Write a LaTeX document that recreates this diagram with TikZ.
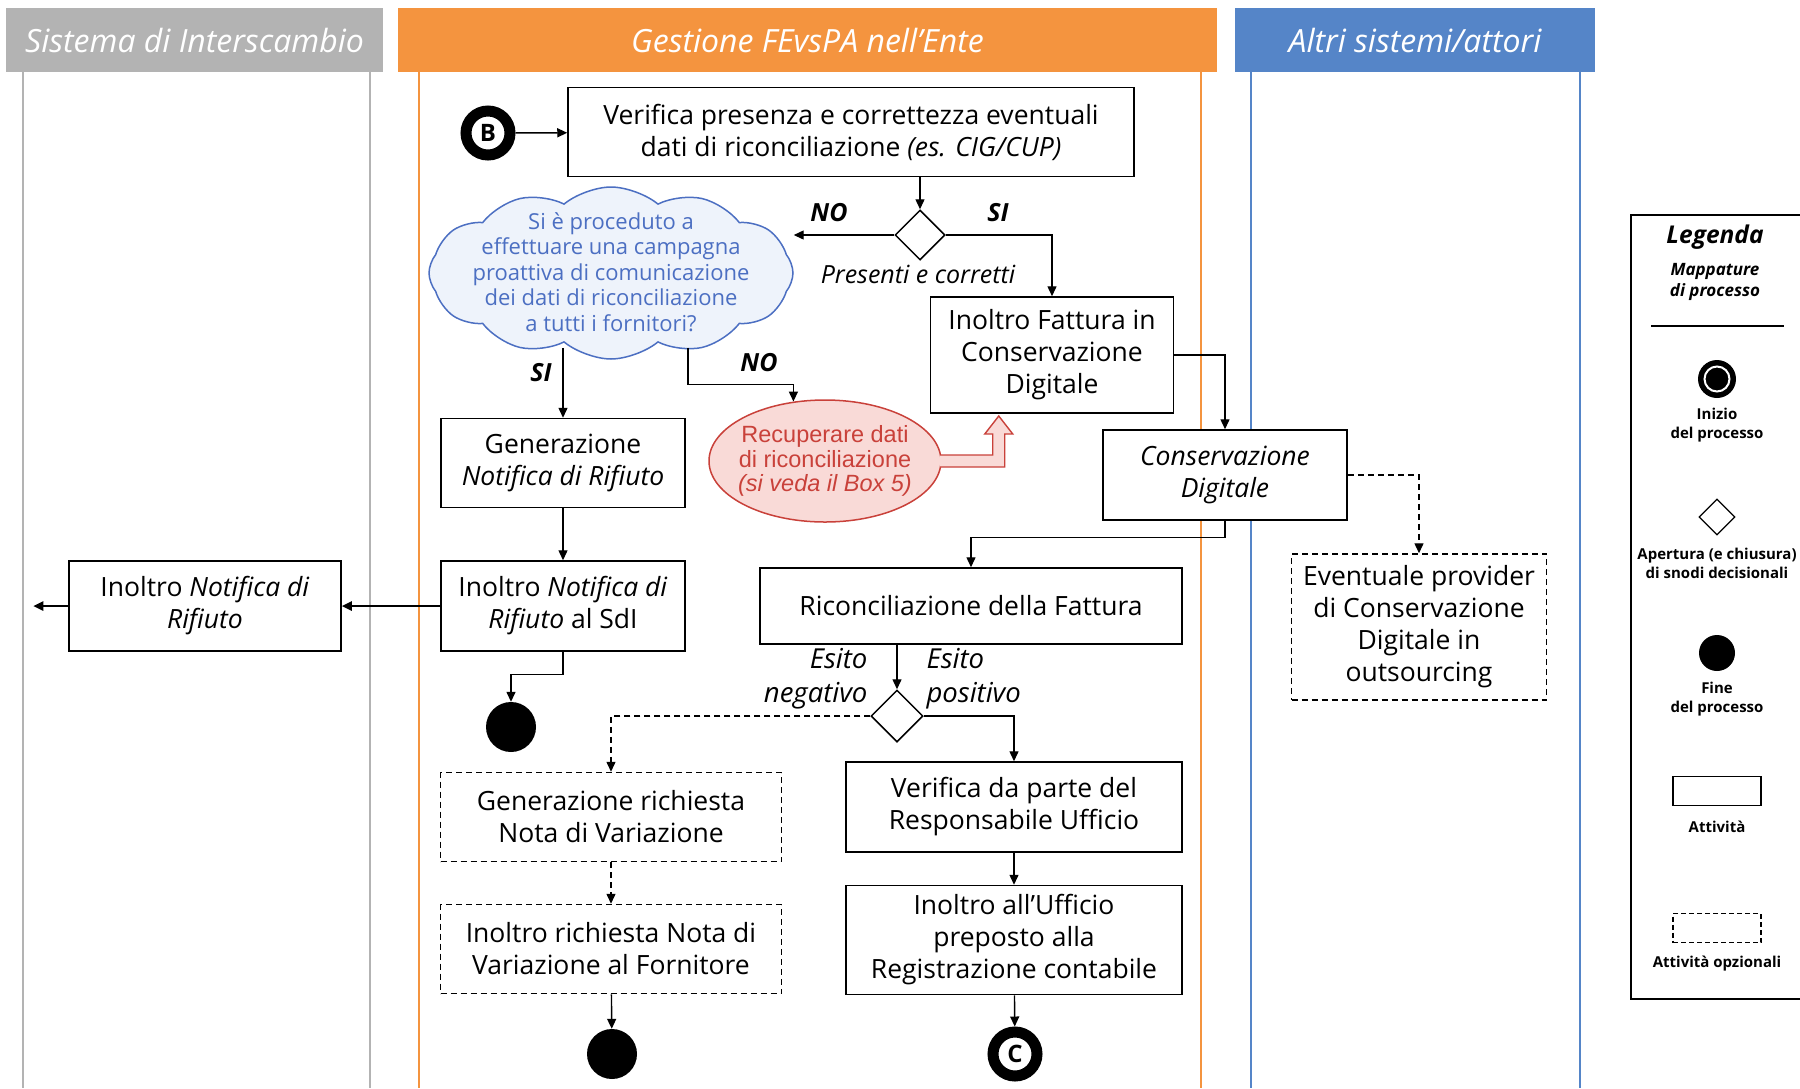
\documentclass[tikz,border=0pt]{standalone}
\usepackage{fontspec}
\setmainfont{Open Sans}
\newfontfamily\arialfont{Liberation Sans}
\usetikzlibrary{arrows.meta,shapes.geometric,shapes.symbols,calc}
\definecolor{sdigray}{HTML}{B3B3B3}
\definecolor{enteorange}{HTML}{F4943F}
\definecolor{altriblue}{HTML}{5585C8}
\definecolor{cloudblue}{HTML}{4C6FC2}
\definecolor{cloudfill}{HTML}{EEF3FB}
\definecolor{recred}{HTML}{C9413A}
\definecolor{recfill}{HTML}{F9DAD7}
\tikzset{
  header/.style={minimum height=64, inner sep=0, text=white,
    font=\fontsize{32}{36}\selectfont\itshape},
  activity/.style={draw, line width=1.5pt, inner sep=0, align=center,
    fill=white, font=\fontsize{26.5}{32}\selectfont},
  optional/.style={activity, dash pattern=on 6pt off 4pt},
  decision/.style={diamond, draw, line width=1.5pt, fill=white,
    inner sep=0, minimum size=50},
  startnode/.style={circle, draw, line width=11pt, fill=white, inner sep=0,
    minimum size=44, font=\fontsize{24}{24}\selectfont\bfseries},
  endnode/.style={circle, fill=black, inner sep=0, minimum size=50},
  arr/.style={line width=1.4pt, -{Triangle[length=10pt,width=9pt]}},
  darr/.style={arr, dash pattern=on 6pt off 4pt},
  lbl/.style={font=\fontsize{25}{28}\selectfont\bfseries\itshape},
  legtext/.style={align=center, font=\fontsize{15}{19}\selectfont\bfseries},
}
\begin{document}
\begin{tikzpicture}[x=1pt,y=-1pt]
  \useasboundingbox (0,0) rectangle (1800,1088);
  % Lanes
  \foreach \x/\c in {23/sdigray, 370/sdigray, 419/enteorange,
                     1201/enteorange, 1251/altriblue, 1580/altriblue}
    \draw[\c, line width=1.2pt] (\x,72) -- (\x,1088);
  \node[header, fill=sdigray, minimum width=377] (hsdi) at (194.5,40) {Sistema di Interscambio};
  \node[header, fill=enteorange, minimum width=819] (hente) at (807.5,40) {Gestione FEvsPA nell’Ente};
  \node[header, fill=altriblue, minimum width=360] (haltri) at (1415,40) {Altri sistemi/attori};

  % Activities
  \node[startnode] (B) at (488,133) {B};
  \node[activity, minimum width=566, minimum height=89] (verif) at (851,132)
    {Verifica presenza e correttezza eventuali\\dati di riconciliazione \textit{(es. CIG/CUP)}};
  \node[decision] (d1) at (920,235) {};
  \node[cloud, cloud puffs=12, cloud puff arc=80, cloud ignores aspect, draw=cloudblue,
    fill=cloudfill, line width=1.5pt, minimum width=364, minimum height=172] (cloud) at (611,273) {};
  \node[align=center, text=cloudblue, font=\fontsize{22}{25.5}\selectfont] (cloudtxt) at (611,272)
    {Si è proceduto a\\effettuare una campagna\\proattiva di comunicazione\\dei dati di riconciliazione\\a tutti i fornitori?};
  \node[activity, minimum width=243, minimum height=116] (fatt) at (1052,355)
    {Inoltro Fattura in\\Conservazione\\Digitale};
  \node[activity, minimum width=244, minimum height=89] (gen) at (563,463)
    {Generazione\\\textit{Notifica di Rifiuto}};
  \node[ellipse, draw=recred, fill=recfill, line width=1.5pt, inner sep=0,
    minimum width=232, minimum height=122] (rec) at (825,461) {};
  \node[align=center, text=recred, font=\arialfont\fontsize{23.5}{24.5}\selectfont] (rectxt) at (825,461)
    {Recuperare dati\\di riconciliazione\\\textit{(si veda il Box 5)}};
  \node[activity, minimum width=244, minimum height=90] (cons) at (1225,475)
    {\textit{Conservazione}\\\textit{Digitale}};
  \node[optional, minimum width=255, minimum height=146] (event) at (1419,627)
    {Eventuale provider\\di Conservazione\\Digitale in\\outsourcing};
  \node[activity, minimum width=244, minimum height=90] (sdi) at (563,606)
    {Inoltro \textit{Notifica di}\\\textit{Rifiuto} al SdI};
  \node[activity, minimum width=272, minimum height=90] (notif) at (205,606)
    {Inoltro \textit{Notifica di}\\\textit{Rifiuto}};
  \node[endnode] (end1) at (511,727) {};
  \node[activity, minimum width=422, minimum height=76] (ric) at (971,606)
    {Riconciliazione della Fattura};
  \node[decision, minimum size=52] (d2) at (897,716) {};
  \node[optional, minimum width=341, minimum height=89] (gnv) at (611,817)
    {Generazione richiesta\\Nota di Variazione};
  \node[optional, minimum width=341, minimum height=89] (inv) at (611,949)
    {Inoltro richiesta Nota di\\Variazione al Fornitore};
  \node[endnode] (end2) at (612,1054) {};
  \node[activity, minimum width=336, minimum height=90] (verr) at (1014,807)
    {Verifica da parte del\\Responsabile Ufficio};
  \node[activity, minimum width=336, minimum height=109] (uff) at (1014,940)
    {Inoltro all’Ufficio\\preposto alla\\Registrazione contabile};
  \node[startnode] (C) at (1015,1054) {C};

  % Labels
  \node[lbl] (no1) at (829,213) {NO};
  \node[lbl] (si1) at (998,213) {SI};
  \node[font=\fontsize{25}{28}\selectfont\itshape] (pres) at (918,274) {Presenti e corretti};
  \node[lbl] (si2) at (541,373) {SI};
  \node[lbl] (no2) at (759,363) {NO};
  \node[anchor=east, align=right, font=\fontsize{27.5}{34}\selectfont\itshape] (neg) at (871,679) {Esito\\negativo};
  \node[anchor=west, align=left, font=\fontsize{27.5}{34}\selectfont\itshape] (pos) at (923,679) {Esito\\positivo};

  % Connectors
  \draw[arr] (B) -- (verif);
  \draw[arr] (d1.north |- verif.south) -- (d1.north);
  \draw[arr] (d1.west) -- (d1.west -| cloud.east);
  \draw[arr] (d1.east) -| (fatt.north);
  \draw[arr] (gen.north |- cloud.south) ++(0,-12) -- (gen.north);
  \draw[arr] ($(cloud.south)+(77,-12)$) -- ++(0,37) -| (rec.118);
  \draw[arr] (gen) -- (sdi);
  \draw[arr, line width=2.4pt] (sdi.west) -- (notif.east);
  \draw[arr, line width=2.4pt] (notif.west) -- ++(-35,0);
  \draw[arr] (sdi.south) -- ++(0,23) -| (end1.north);
  \draw[recred, fill=recfill, line width=1.4pt] ($(rec.east)+(-2,-6)$) -- ++(53,0) -- ++(0,-21)
    -- ++(-8,0) -- ++(14,-18) -- ++(14,18) -- ++(-8,0) -- ++(0,33) -- ($(rec.east)+(-2,6)$);
  \draw[arr] (fatt.east) -| (cons.north);
  \draw[darr] (cons.east) -| (event.north);
  \draw[arr] (cons.south) -- ++(0,17) -| (ric.north);
  \draw[arr] (d2.north |- ric.south) -- (d2.north);
  \draw[darr] (d2.west) -| (gnv.north);
  \draw[arr] (d2.east) -| (verr.north);
  \draw[darr] (gnv) -- (inv);
  \draw[arr] (inv) -- (end2);
  \draw[arr] (verr) -- (uff);
  \draw[arr] (uff) -- (C);

  % Legend
  \draw[line width=1.5pt] (1631,215) rectangle (1830,999);
  \node[font=\fontsize{24.5}{28}\selectfont\bfseries\itshape] (legtitle) at (1715,237) {Legenda};
  \node[align=center, font=\fontsize{17}{21}\selectfont\bfseries\itshape] (legsub) at (1715,282) {Mappature\\di processo};
  \draw[line width=1.2pt] (1651,326) -- (1784,326);
  \node[circle, fill=black, inner sep=0, minimum size=38] (legstart) at (1717,379) {};
  \node[circle, draw=white, line width=2pt, inner sep=0, minimum size=25] (legring) at (legstart) {};
  \node[legtext] (legstarttxt) at (1717,425) {Inizio\\del processo};
  \node[decision, line width=1.2pt, minimum size=36] (legdec) at (1717,517) {};
  \node[legtext] (legdectxt) at (1717,563) {Apertura (e chiusura)\\di snodi decisionali};
  \node[endnode, minimum size=36] (legend) at (1717,653) {};
  \node[legtext] (legendtxt) at (1717,699) {Fine\\del processo};
  \node[draw, line width=1.2pt, minimum width=88, minimum height=29] (legatt) at (1717,791) {};
  \node[legtext] (legatttxt) at (1717,827) {Attività};
  \node[draw, line width=1.2pt, dash pattern=on 5pt off 3pt, minimum width=88, minimum height=29] (legopt) at (1717,928) {};
  \node[legtext] (legopttxt) at (1717,964) {Attività opzionali};
\end{tikzpicture}
\end{document}
